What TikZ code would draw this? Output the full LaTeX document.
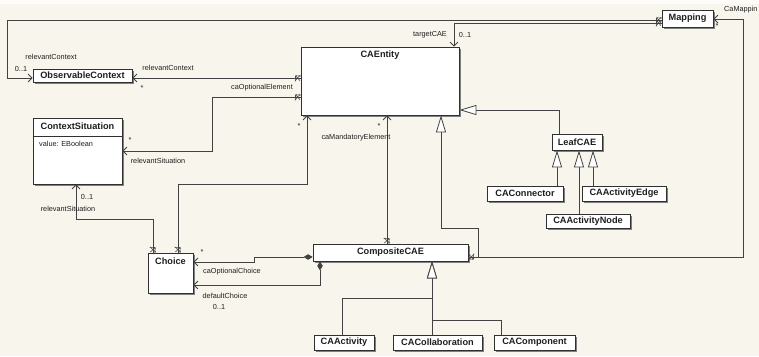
\documentclass[tikz,border=0pt]{standalone}
\usepackage{fontspec}
\setmainfont{Liberation Sans}
\usetikzlibrary{arrows.meta,shadows,decorations.markings}
\definecolor{bgc}{HTML}{F8F5EC}
\definecolor{linec}{HTML}{424242}
\definecolor{boxc}{HTML}{303030}
\definecolor{textc}{HTML}{1E1E1E}
% small cross marking a non-navigable association end
\newcommand{\xcross}{\draw[linec,line width=0.6pt] (-2.3pt,-2.6pt) -- (2.3pt,2.6pt) (-2.3pt,2.6pt) -- (2.3pt,-2.6pt);}
\tikzset{
  umlclass/.style={draw=boxc, fill=white, line width=0.8pt, inner sep=0pt,
    drop shadow={shadow xshift=2pt, shadow yshift=-2pt, fill=black!50, opacity=1},
    font=\fontsize{9.2}{10}\selectfont\bfseries, text=textc},
  ctitle/.style={font=\fontsize{9.2}{10}\selectfont\bfseries, text=textc, inner sep=0pt},
  lbl/.style={font=\fontsize{7.3}{8}\selectfont, text=textc, inner sep=0pt},
  assocline/.style={draw=linec, line width=0.8pt},
  navend/.style={-{Straight Barb[length=4pt,width=8pt]}},
  diamondnav/.style={{Diamond[length=9pt,width=5.5pt]}-{Straight Barb[length=4pt,width=8pt]}},
  genarrow/.style={-{Triangle[fill=white,length=17pt,width=10pt]}},
  xstart/.style={postaction={decorate,decoration={markings,mark=at position 3pt with {\xcross}}}},
}
\begin{document}
\begin{tikzpicture}[x=1pt,y=-1pt]
\useasboundingbox (0,0) rectangle (759,356);
\fill[bgc] (0,0) rectangle (759,356);
\fill[white!70!bgc] (0,0) rectangle (759,4);

% classes
\node[umlclass, minimum width=99pt, minimum height=13pt] (oc) at (82.5,75.5) {ObservableContext};
\node[umlclass, minimum width=51pt, minimum height=17pt] (map) at (687.5,18.5) {Mapping};
\node[umlclass, minimum width=158pt, minimum height=68pt] (cae) at (380,81) {};
\node[ctitle] (caet) at (380,55) {CAEntity};
\node[umlclass, minimum width=89pt, minimum height=66pt] (cs) at (77.5,151) {};
\node[ctitle] (cst) at (77.5,126) {ContextSituation};
\draw[draw=boxc, line width=0.8pt] (cs.west |- 0,136) -- (cs.east |- 0,136);
\node[lbl, anchor=west] (csv) at (39,144) {value: EBoolean};
\node[umlclass, minimum width=45pt, minimum height=40pt] (ch) at (170.5,273) {};
\node[ctitle] (cht) at (170.5,261) {Choice};
\node[umlclass, minimum width=155pt, minimum height=17pt] (comp) at (390.5,252.5) {CompositeCAE};
\node[umlclass, minimum width=50pt, minimum height=16pt] (leaf) at (577,142) {LeafCAE};
\node[umlclass, minimum width=76pt, minimum height=15pt] (conn) at (525,193.5) {CAConnector};
\node[umlclass, minimum width=84pt, minimum height=15pt] (edge) at (624,193.5) {CAActivityEdge};
\node[umlclass, minimum width=84pt, minimum height=14pt] (anode) at (588,221) {CAActivityNode};
\node[umlclass, minimum width=60pt, minimum height=15pt] (act) at (344,342.5) {CAActivity};
\node[umlclass, minimum width=89pt, minimum height=15pt] (collab) at (437.5,342.5) {CACollaboration};
\node[umlclass, minimum width=81pt, minimum height=15pt] (compo) at (534.5,342.5) {CAComponent};

% associations
\draw[assocline, navend, xstart] (map.west |- 0,20) -| (7,78) -- (oc.west |- 0,78);
\draw[assocline, navend, xstart] (map.west |- 0,23) -| (cae.north -| 454,0);
\draw[assocline, navend, xstart] (comp.east |- 0,257) -| (743,19) -- (map.east |- 0,19);
\draw[assocline, navend, xstart] (cae.west |- 0,78) -- (oc.east |- 0,78);
\draw[assocline, navend, xstart] (cae.west |- 0,97) -| (212,151) -- (cs.east |- 0,151);
\draw[assocline, navend, xstart] (ch.north -| 153,0) |- (76,219) -- (cs.south -| 76,0);
\draw[assocline, navend, xstart] (ch.north -| 178,0) |- (307,184) -- (cae.south -| 307,0);
\draw[assocline, navend, xstart] (comp.north -| 387,0) -- (cae.south -| 387,0);

% compositions
\draw[assocline, diamondnav] (comp.west |- 0,257) -- (254,257) -- (254,262) -- (ch.east |- 0,262);
\draw[assocline, diamondnav] (comp.south -| 320,0) |- (ch.east |- 0,285);

% generalizations
\draw[assocline, genarrow] (comp.east |- 0,257) -| (478,228) -| (cae.south -| 441,0);
\draw[assocline, genarrow] (leaf.north -| 559,0) |- (cae.east |- 0,110);
\draw[assocline, genarrow] (conn.north -| 557,0) -- (leaf.south -| 557,0);
\draw[assocline, genarrow] (anode.north -| 579,0) -- (leaf.south -| 579,0);
\draw[assocline, genarrow] (edge.north -| 593,0) -- (leaf.south -| 593,0);
\draw[assocline, genarrow] (act.north -| 342,0) |- (432,298) -- (comp.south -| 432,0);
\draw[assocline, genarrow] (collab.north -| 432,0) -- (comp.south -| 432,0);
\draw[assocline, genarrow] (compo.north -| 501,0) |- (432,320) -- (comp.south -| 432,0);

% role names and multiplicities
\node[lbl] (l1) at (51,57) {relevantContext};
\node[lbl] (l2) at (21,69) {0..1};
\node[lbl] (l3) at (168,68) {relevantContext};
\node[lbl] (l4) at (142,88) {*};
\node[lbl] (l5) at (262,88) {caOptionalElement};
\node[lbl] (l6) at (430,35) {targetCAE};
\node[lbl] (l7) at (465,35) {0..1};
\node[lbl, anchor=west] (l8) at (724,10) {CaMappin};
\node[lbl] (l9) at (717,26) {*};
\node[lbl] (l10) at (130,140) {*};
\node[lbl] (l11) at (158,161) {relevantSituation};
\node[lbl] (l12) at (87,197) {0..1};
\node[lbl] (l13) at (68,209) {relevantSituation};
\node[lbl] (l14) at (299,126) {*};
\node[lbl] (l15) at (379,126) {*};
\node[lbl] (l16) at (356,138) {caMandatoryElement};
\node[lbl] (l17) at (202,252) {*};
\node[lbl] (l18) at (232,272) {caOptionalChoice};
\node[lbl] (l19) at (225,296) {defaultChoice};
\node[lbl] (l20) at (219,307) {0..1};
\end{tikzpicture}
\end{document}
